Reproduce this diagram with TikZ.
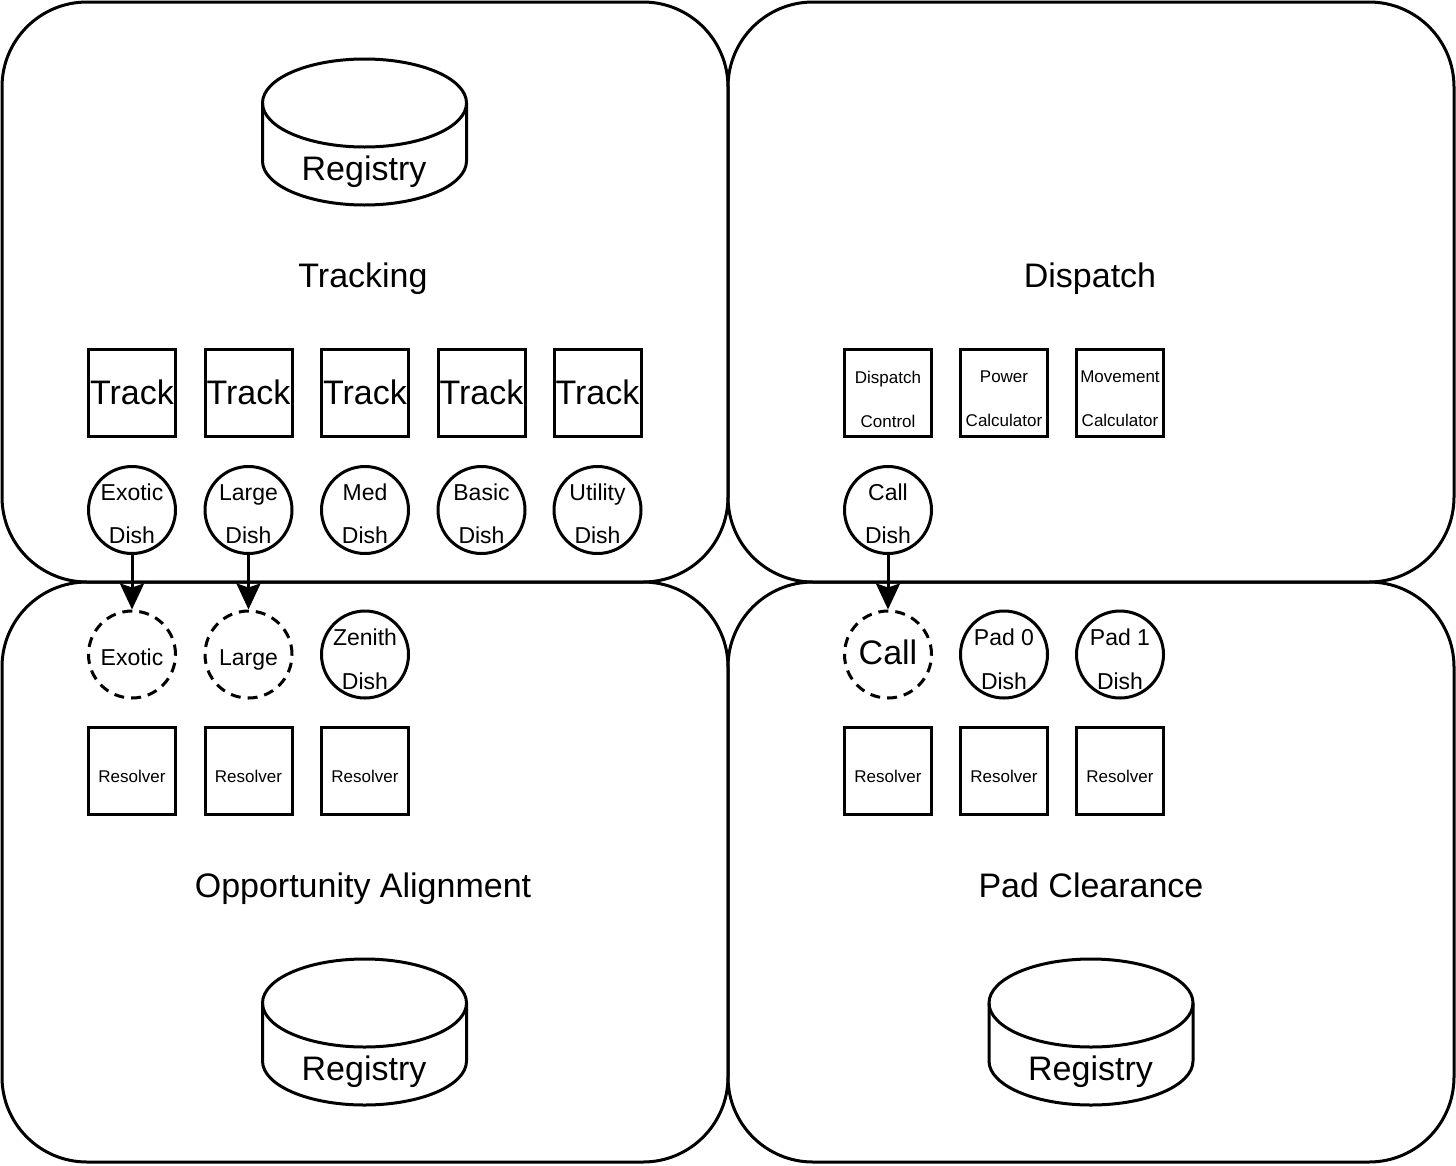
\documentclass[tikz,border=0pt]{standalone}
\usepackage{fontspec}
\setmainfont{Liberation Sans}
\usetikzlibrary{arrows.meta}
\begin{document}
\begin{tikzpicture}[x=1pt,y=-1pt,
  cont/.style={draw, line width=3pt, rounded corners=85pt, minimum width=726pt, minimum height=580pt, inner sep=0pt},
  sq/.style={draw, line width=3pt, minimum size=87pt, inner sep=0pt},
  circ/.style={draw, circle, line width=3pt, minimum size=87pt, inner sep=0pt},
  dcirc/.style={circ, dash pattern=on 10pt off 7pt},
  big/.style={font=\fontsize{34}{40}\selectfont, inner sep=0pt},
  mid/.style={font=\fontsize{23}{43.5}\selectfont, align=center, inner sep=0pt},
  sml/.style={font=\fontsize{17}{44}\selectfont, align=center, inner sep=0pt},
  arr/.style={line width=3pt, -{Stealth[length=26pt,width=24pt,inset=4pt]}},
  registry/.pic={
    \draw[line width=3pt] (0,0) ellipse [x radius=102pt, y radius=44pt];
    \draw[line width=3pt] (-102,0) -- (-102,58) arc[start angle=180, end angle=360, x radius=102pt, y radius=44pt] -- (102,0);
  }
]
\useasboundingbox (0,0) rectangle (1456,1165);

% containers
\node[cont] (trk) at (365,292) {};
\node[cont] (dsp) at (1091,292) {};
\node[cont] (opp) at (365,872) {};
\node[cont] (pad) at (1091,872) {};

% registries
\pic at (364.5,103) {registry};
\node[big, anchor=base] (reg1) at (364,180) {Registry};
\pic at (364.5,1003) {registry};
\node[big, anchor=base] (reg2) at (364,1080) {Registry};
\pic at (1091,1003) {registry};
\node[big, anchor=base] (reg3) at (1090.5,1080) {Registry};

% titles
\node[big, anchor=base] (ttrk) at (363,287) {Tracking};
\node[big, anchor=base] (tdsp) at (1090,287) {Dispatch};
\node[big, anchor=base] (topp) at (363,897) {Opportunity Alignment};
\node[big, anchor=base] (tpad) at (1091,897) {Pad Clearance};

% tracking boxes
\foreach \x [count=\i] in {132,248.5,365,481.5,597.5}{
  \node[sq] (tk\i) at (\x,393) {};
  \node[big, anchor=base] (tkt\i) at (\x,404) {Track};
}
% tracking dishes
\node[circ] (d1) at (132,510) {};
\node[mid] (d1t) at (132,514) {Exotic\\Dish};
\node[circ] (d2) at (248.5,510) {};
\node[mid] (d2t) at (248.5,514) {Large\\Dish};
\node[circ] (d3) at (365,510) {};
\node[mid] (d3t) at (365,514) {Med\\Dish};
\node[circ] (d4) at (481.5,510) {};
\node[mid] (d4t) at (481.5,514) {Basic\\Dish};
\node[circ] (d5) at (597.5,510) {};
\node[mid] (d5t) at (597.5,514) {Utility\\Dish};

% opportunity alignment
\node[dcirc] (ex) at (132,654.5) {};
\node[font=\fontsize{23}{28}\selectfont, inner sep=0pt, anchor=base] (ext) at (132,665) {Exotic};
\node[dcirc] (lg) at (248.5,654.5) {};
\node[font=\fontsize{23}{28}\selectfont, inner sep=0pt, anchor=base] (lgt) at (248.5,665) {Large};
\node[circ] (zn) at (365,654.5) {};
\node[mid] (znt) at (365,659.5) {Zenith\\Dish};
\foreach \x [count=\i] in {132,248.5,365}{
  \node[sq] (ra\i) at (\x,771) {};
  \node[sml, anchor=base] (rat\i) at (\x,782) {Resolver};
}

% dispatch
\node[sq] (dc) at (888,393) {};
\node[sml] (dct) at (888,399) {Dispatch\\Control};
\node[sq] (pc) at (1004,393) {};
\node[sml] (pct) at (1004,399) {Power\\Calculator};
\node[sq] (mc) at (1120,393) {};
\node[sml] (mct) at (1120,399) {Movement\\Calculator};
\node[circ] (cd) at (888,510) {};
\node[mid] (cdt) at (888,514) {Call\\Dish};

% pad clearance
\node[dcirc] (cl) at (888,654.5) {};
\node[big, anchor=base] (clt) at (888,664) {Call};
\node[circ] (p0) at (1004,654.5) {};
\node[mid] (p0t) at (1004,659.5) {Pad 0\\Dish};
\node[circ] (p1) at (1120,654.5) {};
\node[mid] (p1t) at (1120,659.5) {Pad 1\\Dish};
\foreach \x [count=\i] in {888,1004,1120}{
  \node[sq] (rb\i) at (\x,771) {};
  \node[sml, anchor=base] (rbt\i) at (\x,782) {Resolver};
}

% connectors
\draw[arr] (d1) -- (ex);
\draw[arr] (d2) -- (lg);
\draw[arr] (cd) -- (cl);
\end{tikzpicture}
\end{document}
